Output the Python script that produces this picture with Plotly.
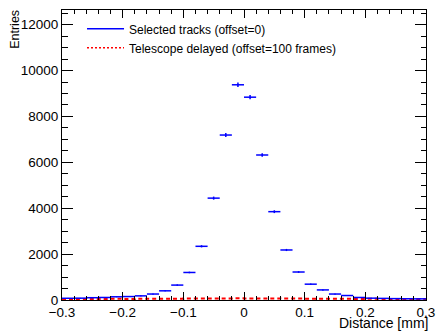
import numpy as np
import plotly.graph_objects as go

# Bin centers (mm), bin width 0.02
bin_centers = [-0.29, -0.27, -0.25, -0.23, -0.21, -0.19, -0.17, -0.15, -0.13, -0.11,
               -0.09, -0.07, -0.05, -0.03, -0.01, 0.01, 0.03, 0.05, 0.07, 0.09,
               0.11, 0.13, 0.15, 0.17, 0.19, 0.21, 0.23, 0.25, 0.27, 0.29]
bin_width = 0.02

selected_tracks = [75, 80, 100, 110, 140, 150, 180, 260, 400, 650,
                   1200, 2340, 4440, 7190, 9380, 8840, 6320, 3850, 2180, 1220,
                   690, 440, 260, 195, 110, 80, 70, 60, 55, 50]

telescope_delayed = [40, 45, 40, 45, 50, 45, 50, 55, 50, 55,
                     60, 60, 65, 70, 75, 70, 70, 65, 60, 60,
                     55, 55, 50, 50, 45, 50, 45, 40, 45, 40]

x_ticks = [-0.3, -0.2, -0.1, 0, 0.1, 0.2, 0.3]
x_tick_labels = ["\u22120.3", "\u22120.2", "\u22120.1", "0", "0.1", "0.2", "0.3"]
y_ticks = [0, 2000, 4000, 6000, 8000, 10000, 12000]
y_tick_labels = ["0", "2000", "4000", "6000", "8000", "10000", "12000"]

BLUE = "rgb(0,0,255)"
RED = "rgb(255,0,0)"
FONT = "Liberation Sans, Arial, sans-serif"

xc = np.array(bin_centers)
yv = np.array(selected_tracks, dtype=float)
edges = np.append(xc - bin_width / 2, xc[-1] + bin_width / 2)
red_y = np.append(np.array(telescope_delayed, dtype=float), telescope_delayed[-1])

fig = go.Figure()

# delayed histogram (step line, dashed)
fig.add_trace(go.Scatter(
    x=edges, y=red_y, mode="lines", line=dict(color=RED, width=2, dash="4px,3px", shape="hv"),
    showlegend=False, hoverinfo="skip"))

# selected tracks (error bars)
fig.add_trace(go.Scatter(
    x=xc, y=yv, mode="markers", marker=dict(size=1, color=BLUE),
    error_x=dict(type="data", array=[bin_width / 2] * len(xc), color=BLUE, thickness=1.5, width=0),
    error_y=dict(type="data", array=np.sqrt(yv), color=BLUE, thickness=1.5, width=0),
    showlegend=False, hoverinfo="skip"))

# legend entries
fig.add_trace(go.Scatter(x=[None], y=[None], mode="lines", line=dict(color=BLUE, width=1.5),
                         name="Selected tracks (offset=0)"))
fig.add_trace(go.Scatter(x=[None], y=[None], mode="lines", line=dict(color=RED, width=1.5, dash="2px,2px"),
                         name="Telescope delayed (offset=100 frames)"))

axis_common = dict(
    showline=True, linecolor="black", linewidth=1, mirror="ticks",
    ticks="inside", tickcolor="black", showgrid=False, zeroline=False,
    tickfont=dict(family=FONT, size=13.5, color="black"),
)

fig.update_xaxes(range=[-0.3, 0.3], tickvals=x_ticks, ticktext=x_tick_labels, ticklen=8, tickwidth=1,
                 minor=dict(ticks="inside", dtick=0.02, ticklen=4, tickcolor="black", showgrid=False),
                 **axis_common)
fig.update_yaxes(range=[0, 12640], tickvals=y_ticks, ticktext=y_tick_labels, ticklen=11, tickwidth=1,
                 minor=dict(ticks="inside", dtick=500, ticklen=5.5, tickcolor="black", showgrid=False),
                 **axis_common)

fig.update_layout(
    width=444, height=332,
    margin=dict(l=62, r=12, t=9, b=31.5),
    paper_bgcolor="white", plot_bgcolor="white",
    font=dict(family=FONT, size=13, color="black"),
    legend=dict(x=0.055, y=0.985, xanchor="left", yanchor="top", bgcolor="rgba(0,0,0,0)",
                font=dict(family=FONT, size=12, color="black"), itemwidth=37,
                tracegroupgap=0),
    annotations=[
        dict(text="Entries", textangle=-90, xref="paper", yref="paper", x=-0.131, y=1.0,
             xanchor="center", yanchor="top", yshift=2, showarrow=False,
             font=dict(family=FONT, size=12.5)),
        dict(text="Distance [mm]", xref="paper", yref="paper", x=1.0, y=-0.108,
             xanchor="right", yanchor="bottom", xshift=4, yshift=-2, showarrow=False,
             font=dict(family=FONT, size=14)),
    ],
)

fig.write_html("out.html")
